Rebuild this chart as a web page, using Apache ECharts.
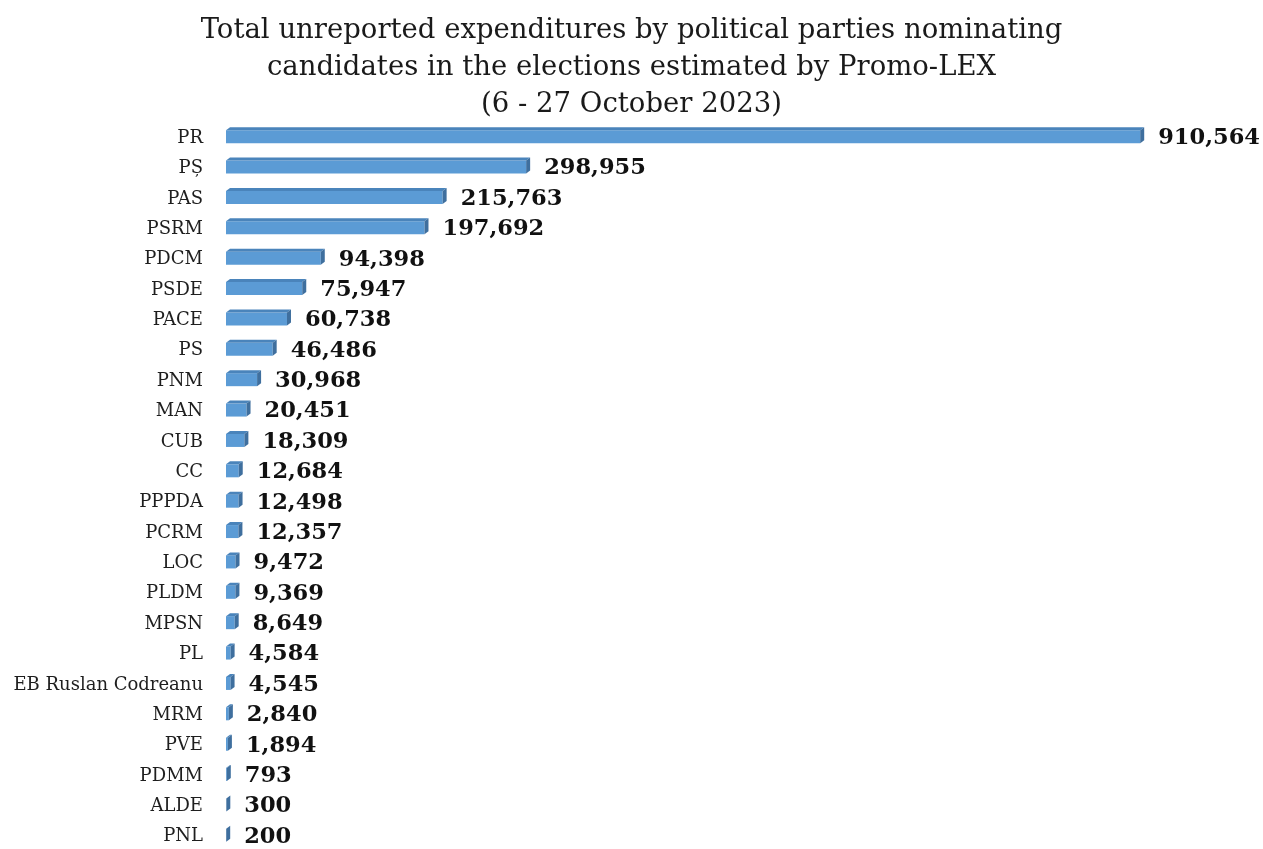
<!DOCTYPE html>
<html>
<head>
<meta charset="utf-8">
<script src="https://cdn.jsdelivr.net/npm/echarts@6/dist/echarts.min.js"></script>
<style>html,body{margin:0;padding:0;background:#fff;}#chart{width:1263px;height:849px;}</style>
</head>
<body>
<div id="chart"></div>
<script>
const categories = ["PR","PȘ","PAS","PSRM","PDCM","PSDE","PACE","PS","PNM","MAN","CUB","CC","PPPDA","PCRM","LOC","PLDM","MPSN","PL","EB Ruslan Codreanu","MRM","PVE","PDMM","ALDE","PNL"];
const values = [910564,298955,215763,197692,94398,75947,60738,46486,30968,20451,18309,12684,12498,12357,9472,9369,8649,4584,4545,2840,1894,793,300,200];
const titleLines = ["Total unreported expenditures by political parties nominating","candidates in the elections estimated by Promo-LEX","(6 - 27 October 2023)"];

const DX = 4, DY = 3;
const chart = echarts.init(document.getElementById('chart'));
chart.setOption({
  backgroundColor: '#ffffff',
  animation: false,
  title: {
    text: titleLines.join('\n'),
    left: 'center',
    top: 7,
    textStyle: { fontFamily: 'DejaVu Serif', fontWeight: 'normal', fontSize: 27.5, color: '#1a1a1a', lineHeight: 37 }
  },
  grid: { left: 226, right: 33, top: 120, height: 730, containLabel: false },
  xAxis: { type: 'value', min: 0, max: 1000000, show: false },
  yAxis: {
    type: 'category', data: categories, inverse: true,
    axisLine: { show: false }, axisTick: { show: false }, splitLine: { show: false },
    axisLabel: { fontFamily: 'DejaVu Serif', fontSize: 18, color: '#1e1e1e', margin: 23, verticalAlign: 'top', padding: [-6, 0, 0, 0] }
  },
  series: [{
    type: 'custom',
    data: values.map((v, i) => [v, i]),
    encode: { x: 0, y: 1 },
    renderItem: function (params, api) {
      const v = api.value(0), idx = api.value(1);
      const p0 = api.coord([0, idx]);
      const p1 = api.coord([v, idx]);
      const x0 = p0[0], x1 = p1[0], yc = p0[1];
      const yt = yc - 5, yb = yc + 8;
      const children = [];
      if (x1 - x0 > 0.5) {
        children.push({ type: 'rect', shape: { x: x0, y: yt, width: x1 - x0, height: yb - yt }, style: { fill: '#5b9bd5' } });
        children.push({ type: 'polygon', shape: { points: [[x0, yt], [x0 + DX, yt - DY], [x1 + DX, yt - DY], [x1, yt]] }, style: { fill: '#4a84bb' } });
      }
      children.push({ type: 'polygon', shape: { points: [[x1, yt], [x1 + DX, yt - DY], [x1 + DX, yb - DY], [x1, yb]] }, style: { fill: '#3f6f9e' } });
      children.push({ type: 'text', x: x1 + DX + 14, y: yc + 3, style: { text: echarts.format.addCommas(v), fontFamily: 'DejaVu Serif', fontWeight: 'bold', fontSize: 22.5, fill: '#111', verticalAlign: 'middle', align: 'left' } });
      return { type: 'group', children: children };
    }
  }]
});
</script>
</body>
</html>
